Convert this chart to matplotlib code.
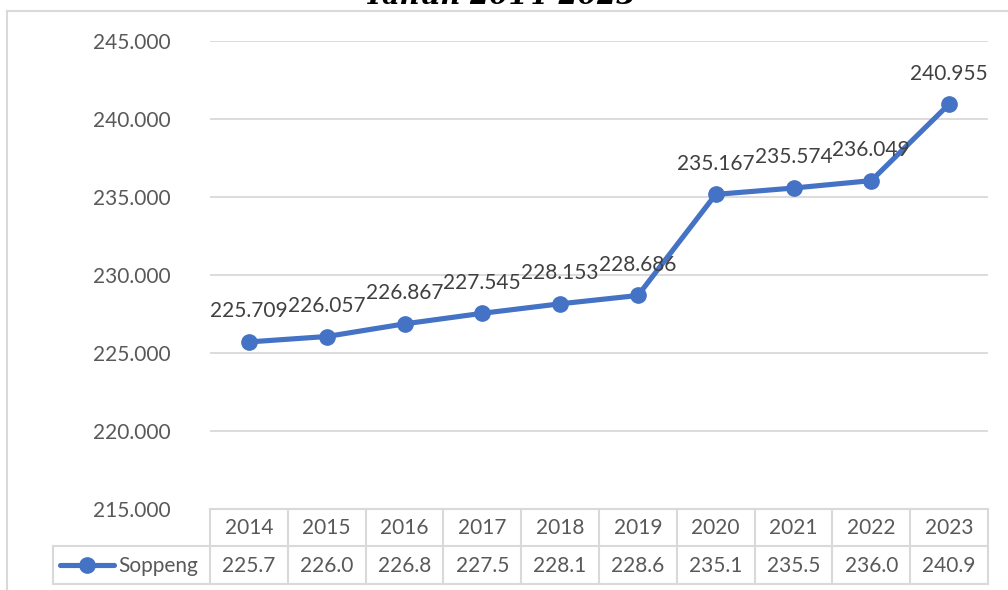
import matplotlib
matplotlib.use("Agg")
import matplotlib.pyplot as plt
from matplotlib.lines import Line2D

plt.rcParams['font.family'] = ['Lato', 'DejaVu Sans']

# data
tahun = ['2014', '2015', '2016', '2017', '2018', '2019', '2020', '2021', '2022', '2023']
soppeng = [225.709, 226.057, 226.867, 227.545, 228.153, 228.686, 235.167, 235.574, 236.049, 240.955]
label_data = ['225.709', '226.057', '226.867', '227.545', '228.153', '228.686', '235.167', '235.574', '236.049', '240.955']
tabel = ['225.7', '226.0', '226.8', '227.5', '228.1', '228.6', '235.1', '235.5', '236.0', '240.9']
yticks = [215, 220, 225, 230, 235, 240, 245]
ytick_labels = ['215.000', '220.000', '225.000', '230.000', '235.000', '240.000', '245.000']

W, H = 1008, 590
biru = '#4472C4'
abu = '#D9D9D9'
teks = '#595959'

fig = plt.figure(figsize=(W / 100, H / 100), dpi=100)

# area plot (pixel -> fraction)
x0, x1, y_top, y_bot = 210, 988, 41, 509
ax = fig.add_axes([x0 / W, 1 - y_bot / H, (x1 - x0) / W, (y_bot - y_top) / H])
x = list(range(len(tahun)))
ax.plot(x, soppeng, color=biru, lw=3.7, marker='o', ms=11, solid_capstyle='round', zorder=3)
for xi, yi, lab in zip(x, soppeng, label_data):
    ax.annotate(lab, (xi, yi), xytext=(0, 22), textcoords='offset points',
                ha='center', va='center', fontsize=15, color='#404040')
ax.set_xlim(-0.5, len(tahun) - 0.5)
ax.set_ylim(215, 245)
ax.set_yticks(yticks)
ax.set_yticklabels(ytick_labels)
ax.set_xticks([])
ax.tick_params(axis='y', length=0, pad=28, labelsize=15, labelcolor=teks)
ax.grid(axis='y', color=abu, lw=1.3)
ax.set_axisbelow(True)
for s in ax.spines.values():
    s.set_visible(False)
ax.patch.set_alpha(0)

# overlay untuk tabel data dan bingkai
ov = fig.add_axes([0, 0, 1, 1], zorder=-1)
ov.set_xlim(0, W)
ov.set_ylim(H, 0)
ov.axis('off')

# bingkai chart
ov.add_line(Line2D([7, 7], [11, H], color=abu, lw=1.5))
ov.add_line(Line2D([7, W], [11, 11], color=abu, lw=1.5))

# judul (terpotong di atas seperti aslinya)
fig.text(500 / W, 1 - 4 / H, 'Tahun 2014-2023', ha='center', va='baseline',
         fontsize=20, fontweight='bold', fontstyle='italic', family='DejaVu Serif')

# tabel
cw = (x1 - x0) / len(tahun)
r0, r1, r2 = 509, 546, 584
lx = 53
ov.add_line(Line2D([x0, x1], [r0, r0], color=abu, lw=1.5))
ov.add_line(Line2D([lx, x1], [r1, r1], color=abu, lw=1.5))
ov.add_line(Line2D([lx, x1], [r2, r2], color=abu, lw=1.5))
ov.add_line(Line2D([lx, lx], [r1, r2], color=abu, lw=1.5))
for i in range(len(tahun) + 1):
    ov.add_line(Line2D([x0 + i * cw] * 2, [r0, r2], color=abu, lw=1.5))
for i, (t, v) in enumerate(zip(tahun, tabel)):
    cx = x0 + (i + 0.5) * cw
    ov.text(cx, (r0 + r1) / 2 + 1, t, ha='center', va='center', fontsize=15, color=teks)
    ov.text(cx, (r1 + r2) / 2 + 1, v, ha='center', va='center', fontsize=15, color=teks)

# legenda di tabel
ly = (r1 + r2) / 2
ov.add_line(Line2D([60, 114], [ly, ly], color=biru, lw=3.7, solid_capstyle='round'))
ov.add_line(Line2D([87], [ly], color=biru, marker='o', ms=11))
ov.text(118, ly + 1, 'Soppeng', ha='left', va='center', fontsize=15, color=teks)

fig.savefig('out.png', dpi=100)
